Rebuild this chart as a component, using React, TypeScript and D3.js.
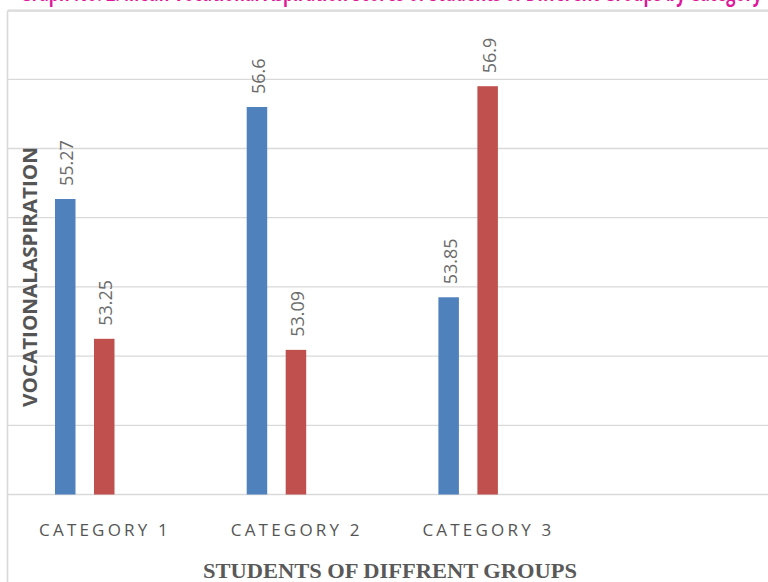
import React from "react";
import * as d3 from "d3";

const categories = ["CATEGORY 1", "CATEGORY 2", "CATEGORY 3"];
const seriesNames = ["Series 1", "Series 2"];
const series1 = [55.27, 56.6, 53.85];
const series2 = [53.25, 53.09, 56.9];
const seriesValues = [series1, series2];
const seriesColors = ["#4F81BD", "#C0504D"];
const yTicks = [51, 52, 53, 54, 55, 56, 57, 58];
const yTitle = "VOCATIONALASPIRATION";
const xTitle = "STUDENTS OF DIFFRENT GROUPS";
const chartTitle = "Graph No. 2: Mean Vocational Aspiration Scores of Students of Different Groups by Category";

const W = 768;
const H = 582;

export default function App() {
  const y = d3.scaleLinear().domain([51, 58]).range([494.5, 10.1]);
  const x0 = d3.scaleBand<string>().domain(categories).range([8.7, 583.8]).paddingInner(0).paddingOuter(0);
  const x1 = d3.scaleBand<string>().domain(seriesNames).range([46.3, 105.8]).paddingInner(0.474).paddingOuter(0);

  return (
    <svg
      width={W}
      height={H}
      viewBox={`0 0 ${W} ${H}`}
      style={{ position: "fixed", left: 0, top: 0, background: "#fff" }}
    >
      <rect x={0} y={0} width={W} height={H} fill="#fff" />
      {/* title, cropped at the top edge as in the reference */}
      <text
        x={20}
        y={1.3}
        fill="#E0169B"
        fontFamily="'Open Sans', sans-serif"
        fontWeight="bold"
        fontSize={24}
        textLength={742}
        lengthAdjust="spacingAndGlyphs"
      >
        {chartTitle}
      </text>
      {/* chart area border */}
      <line x1={7} x2={W} y1={11} y2={11} stroke="#D9D9D9" strokeWidth={1.6} />
      <line x1={7.5} x2={7.5} y1={11} y2={H} stroke="#D9D9D9" strokeWidth={1.6} />
      {/* gridlines */}
      {yTicks.map((t) => (
        <line key={t} x1={8} x2={W} y1={y(t)} y2={y(t)} stroke="#D9D9D9" strokeWidth={1.3} />
      ))}
      {/* bars */}
      {categories.map((c, ci) => (
        <g key={c} transform={`translate(${x0(c)},0)`}>
          {seriesNames.map((s, si) => {
            const v = seriesValues[si][ci];
            const bx = x1(s)!;
            const bw = x1.bandwidth();
            const top = y(v);
            return (
              <g key={s}>
                <rect x={bx} y={top} width={bw} height={y(51) - top} fill={seriesColors[si]} />
                <text
                  transform={`translate(${bx + bw / 2 + 1.5},${top - 13}) rotate(-90)`}
                  dy="0.36em"
                  fill="#6b6b6b"
                  fontFamily="'Open Sans', sans-serif"
                  fontSize={18}
                >
                  {String(v)}
                </text>
              </g>
            );
          })}
        </g>
      ))}
      {/* category labels */}
      {categories.map((c) => (
        <text
          key={c}
          x={x0(c)! + x0.bandwidth() / 2 + 0.5}
          y={536}
          textAnchor="middle"
          fill="#555"
          fontFamily="'Open Sans', sans-serif"
          fontSize={17}
          letterSpacing={3.2}
        >
          {c}
        </text>
      ))}
      {/* y title */}
      <text
        transform={`translate(29.5,277) rotate(-90)`}
        dy="0.36em"
        textAnchor="middle"
        fill="#555"
        fontFamily="'Open Sans', sans-serif"
        fontWeight="bold"
        fontSize={20}
        textLength={260}
        lengthAdjust="spacingAndGlyphs"
      >
        {yTitle}
      </text>
      {/* x title */}
      <text
        x={390}
        y={578}
        textAnchor="middle"
        fill="#595959"
        fontFamily="'Liberation Serif', 'Times New Roman', serif"
        fontWeight="bold"
        fontSize={20.5}
        textLength={374}
        lengthAdjust="spacingAndGlyphs"
      >
        {xTitle}
      </text>
    </svg>
  );
}
